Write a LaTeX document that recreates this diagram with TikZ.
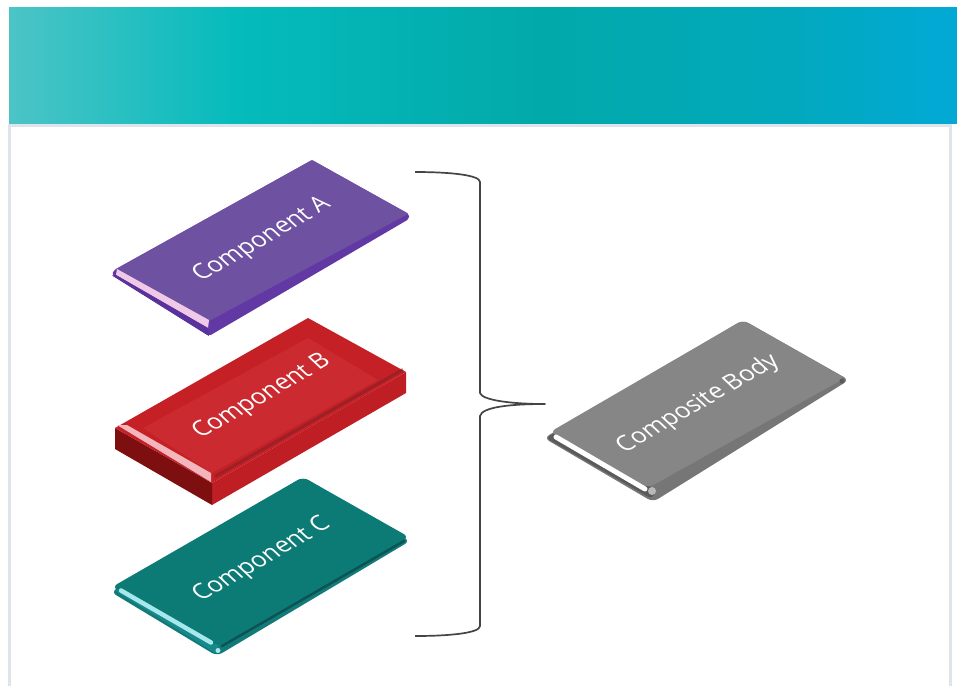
\documentclass[tikz,border=0pt]{standalone}
\usepackage{fontspec}
\setmainfont{Open Sans}
\definecolor{hA}{HTML}{4CC4C6}
\definecolor{hB}{HTML}{05BBBC}
\definecolor{hC}{HTML}{02A9AA}
\definecolor{hD}{HTML}{02A9BC}
\definecolor{hE}{HTML}{02A9D6}
\pgfdeclarehorizontalshading{hdr}{100bp}{
 color(0bp)=(hA); color(25bp)=(hA); color(37bp)=(hB); color(53bp)=(hC); color(66bp)=(hD); color(75bp)=(hE); color(100bp)=(hE)}
\definecolor{frameblue}{HTML}{DDE4EC}
\definecolor{purTop}{HTML}{6E51A0}
\definecolor{purSide}{HTML}{6238A4}
\definecolor{purFront}{HTML}{5A329C}
\definecolor{purLight}{HTML}{F0C8E8}
\definecolor{redOuter}{HTML}{C42026}
\definecolor{redInner}{HTML}{CB2B30}
\definecolor{redSide}{HTML}{BE1E24}
\definecolor{redDark}{HTML}{7E0F10}
\definecolor{redBand}{HTML}{7A2226}
\definecolor{redLight}{HTML}{F2B6BC}
\definecolor{tealTop}{HTML}{0D7B75}
\definecolor{tealSide}{HTML}{127A78}
\definecolor{tealDark}{HTML}{0A5553}
\definecolor{tealFront}{HTML}{17898A}
\definecolor{tealLight}{HTML}{A6E8EC}
\definecolor{grayTop}{HTML}{868686}
\definecolor{graySide}{HTML}{767676}
\definecolor{grayFront}{HTML}{5A5A5A}
\definecolor{bracketc}{HTML}{444444}
\tikzset{
 x=1pt,y=-1pt,
 flat/.style={draw=none,line join=round},
 plabel/.style={text=white,font=\fontsize{23.5}{25}\selectfont,inner sep=0pt,rotate=30,xslant=-0.3},
 brace/.style={draw=bracketc,line width=1.7pt,line join=round}
}
\begin{document}
\begin{tikzpicture}
\useasboundingbox (0,0) rectangle (957,686);
\fill[white] (0,0) rectangle (957,686);
% header
\node[name=header,flat,inner sep=0pt,minimum width=948pt,minimum height=116pt,shading=hdr,anchor=north west] at (9,7) {};
% frame
\draw[frameblue,line width=3pt] (9.5,686) -- (9.5,125.5) -- (950.5,125.5) -- (950.5,686);
% Component A
\fill[purSide,flat,rounded corners=2pt] (112,275) -- (209,336) -- (409,219) -- (409,214) -- (312,160) -- (114,270) -- cycle;
\fill[purTop,flat] (312,160) -- (408,214) -- (209,321) -- (115,270) -- cycle;
\fill[purLight,flat] (117,269) -- (209,320) -- (208,328) -- (116,275) -- cycle;
\fill[purFront,flat] (112,275.5) -- (116,275) -- (208,328) -- (209,336) -- cycle;
\node[plabel,name=a] at (262,240) {Component A};
% Component B
\fill[redSide,flat] (212,483) -- (406,372) -- (406,393) -- (212,505) -- cycle;
\fill[redDark,flat] (115,428) -- (212,483) -- (212,505) -- (115,449) -- cycle;
\fill[redOuter,flat] (308,318) -- (406,372) -- (212,483) -- (115,428) -- cycle;
\fill[redInner,flat] (308,338) -- (378,380) -- (212,473) -- (143,428) -- cycle;
\draw[redBand,line width=3pt,opacity=.55] (215,476.5) -- (403,369.5);
\fill[redLight,flat] (117,425) -- (127,425) -- (211,473) -- (211,482) -- cycle;
\node[plabel,name=b] at (262,397) {Component B};
% Component C
\fill[tealSide,rounded corners=6pt,flat] (111,592) -- (303,477) -- (410,541) -- (217,656) -- cycle;
\fill[tealFront,flat,rounded corners=3pt] (114,590) -- (120,586) -- (219,644) -- (217,654) -- cycle;
\fill[tealTop,rounded corners=6pt,flat] (303,477) -- (409,537) -- (217,646) -- (112,587) -- cycle;
\draw[tealLight,line width=4.5pt,line cap=round] (121,590.5) -- (211,642.5);
\draw[tealDark,line width=2.5pt,line cap=round] (222,646) -- (404,541);
\fill[tealLight] (218,650.5) circle (2.5pt);
\node[plabel,name=c] at (262,560) {Component C};
% Composite
\fill[graySide,rounded corners=6pt,flat] (544,438) -- (743,320) -- (849,380) -- (653,502) -- cycle;
\fill[grayFront,rounded corners=4pt,flat] (546,438) -- (556,432) -- (656,490) -- (652,499) -- cycle;
\fill[grayTop,rounded corners=6pt,flat] (743,320) -- (845,378) -- (648,488) -- (550,432) -- cycle;
\draw[white,line width=5pt,line cap=round] (556,437) -- (645,489);
\fill[gray!55] (652,491) circle (4pt);
\fill[grayFront] (842,381) circle (2.5pt);
\node[plabel,name=d] at (698,404) {Composite Body};
% bracket
\coordinate (bt) at (415,172);
\coordinate (bm) at (545,404);
\coordinate (bb) at (415,636);
\draw[brace] (bt) .. controls (450,172) and (480,175) .. (480,182) -- (480,393) .. controls (482,400) and (510,404) .. (bm)
  .. controls (510,404) and (482,407) .. (480,416) -- (480,626) .. controls (480,633) and (450,636) .. (bb);
\end{tikzpicture}
\end{document}
